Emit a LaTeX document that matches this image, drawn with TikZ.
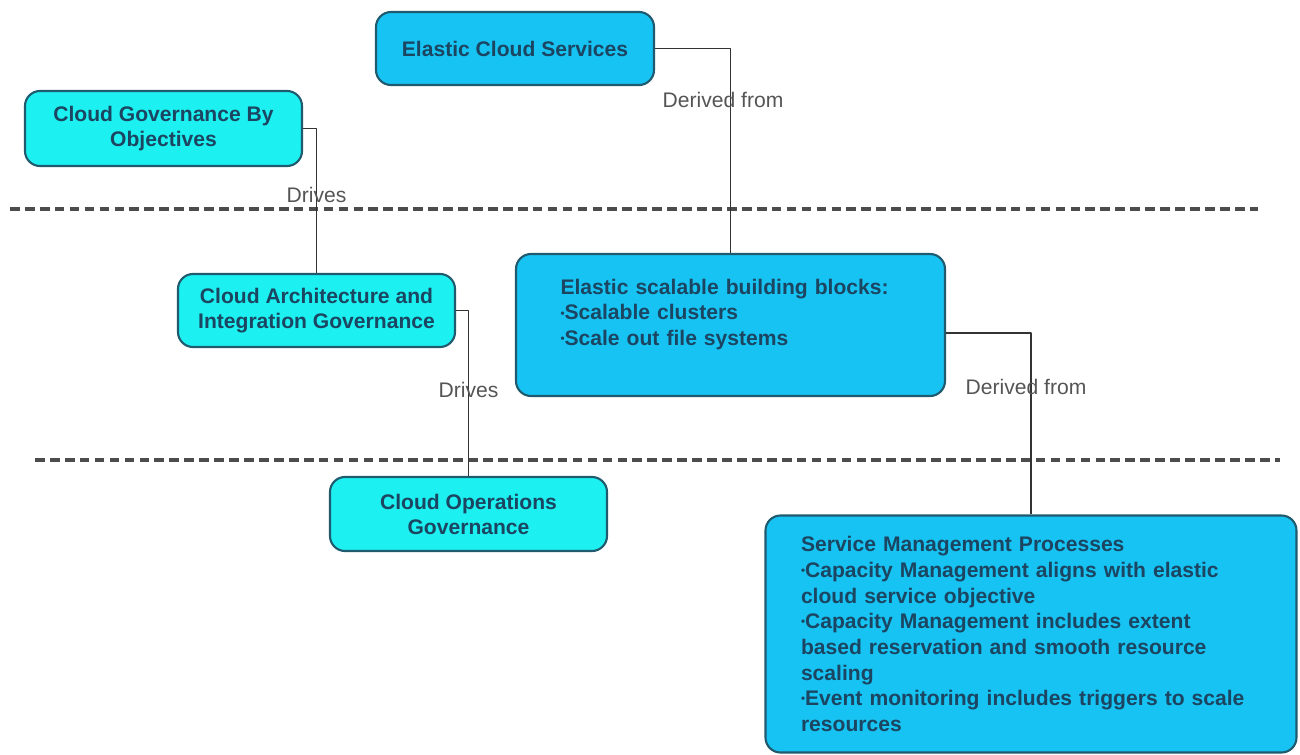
\documentclass[tikz,border=0pt]{standalone}
\usepackage{fontspec}
\setmainfont{Liberation Sans}
\definecolor{skyfill}{HTML}{17C3F3}
\definecolor{cyanfill}{HTML}{1CF0F0}
\definecolor{boxline}{HTML}{1F5A6E}
\definecolor{boxtext}{HTML}{1B4561}
\definecolor{labeltext}{HTML}{555555}
\newcommand{\bul}{\raisebox{0.25ex}{\scalebox{0.55}{\textbullet}}}
\tikzset{
	gbox/.style={draw=boxline,line width=1.2pt,rounded corners=0.3cm,fill=cyanfill,text=boxtext,font=\bfseries\fontsize{12}{14.2}\selectfont,align=center,inner sep=0pt},
	sbox/.style={gbox,fill=skyfill},
	rel/.style={font=\fontsize{12}{14}\selectfont,text=labeltext,inner sep=1pt},
	link/.style={draw=black!80,line width=0.6pt},
	sep/.style={black!70,line width=1.8pt,dash pattern=on 5.5pt off 3pt}
}
\begin{document}
\begin{tikzpicture}[line join=round]
	\useasboundingbox (0,0) rectangle (26,-15.1);
	% layer separators
	\draw[sep] (0.2,-4.18)--(25.16,-4.18);
	\draw[sep] (0.7,-9.20)--(25.6,-9.20);
	% boxes
	\node[sbox,minimum width=5.56cm,minimum height=1.46cm] (ecs) at (10.30,-0.97) {Elastic Cloud Services};
	\node[gbox,minimum width=5.54cm,minimum height=1.50cm] (cgo) at (3.27,-2.57) {Cloud Governance By\\Objectives};
	\node[gbox,minimum width=5.54cm,minimum height=1.46cm] (arch) at (6.33,-6.21) {Cloud Architecture and\\Integration Governance};
	\node[sbox,minimum width=8.58cm,minimum height=2.84cm,text width=6.8cm,align=left,font=\bfseries\fontsize{12}{14.6}\selectfont] (bb) at (14.61,-6.50)
		{Elastic scalable building blocks:\\\bul Scalable clusters\\\bul Scale out file systems\\ \mbox{}};
	\node[gbox,minimum width=5.54cm,minimum height=1.48cm] (ops) at (9.37,-10.28) {Cloud Operations\\Governance};
	\node[sbox,minimum width=10.62cm,minimum height=4.74cm,text width=9.2cm,align=left,font=\bfseries\fontsize{12}{14.6}\selectfont] (smp) at (20.62,-12.68)
		{Service Management Processes\\
		\bul Capacity Management aligns with elastic\\
		cloud service objective\\
		\bul Capacity Management includes extent\\
		based reservation and smooth resource\\
		scaling\\
		\bul Event monitoring includes triggers to scale\\
		resources};
	% relations
	\draw[link] (ecs.east) -| (bb.north) node[rel,pos=0.625,xshift=-0.15cm] {Derived from};
	\draw[link] (cgo.east) -| (arch.north) node[rel,pos=0.73] {Drives};
	\draw[link] (arch.east) -| (ops.north) node[rel,pos=0.74] {Drives};
	\draw[link] ([yshift=-0.16cm]bb.east) -| (smp.north) node[rel,pos=0.65,xshift=-0.1cm] {Derived from};
\end{tikzpicture}
\end{document}
